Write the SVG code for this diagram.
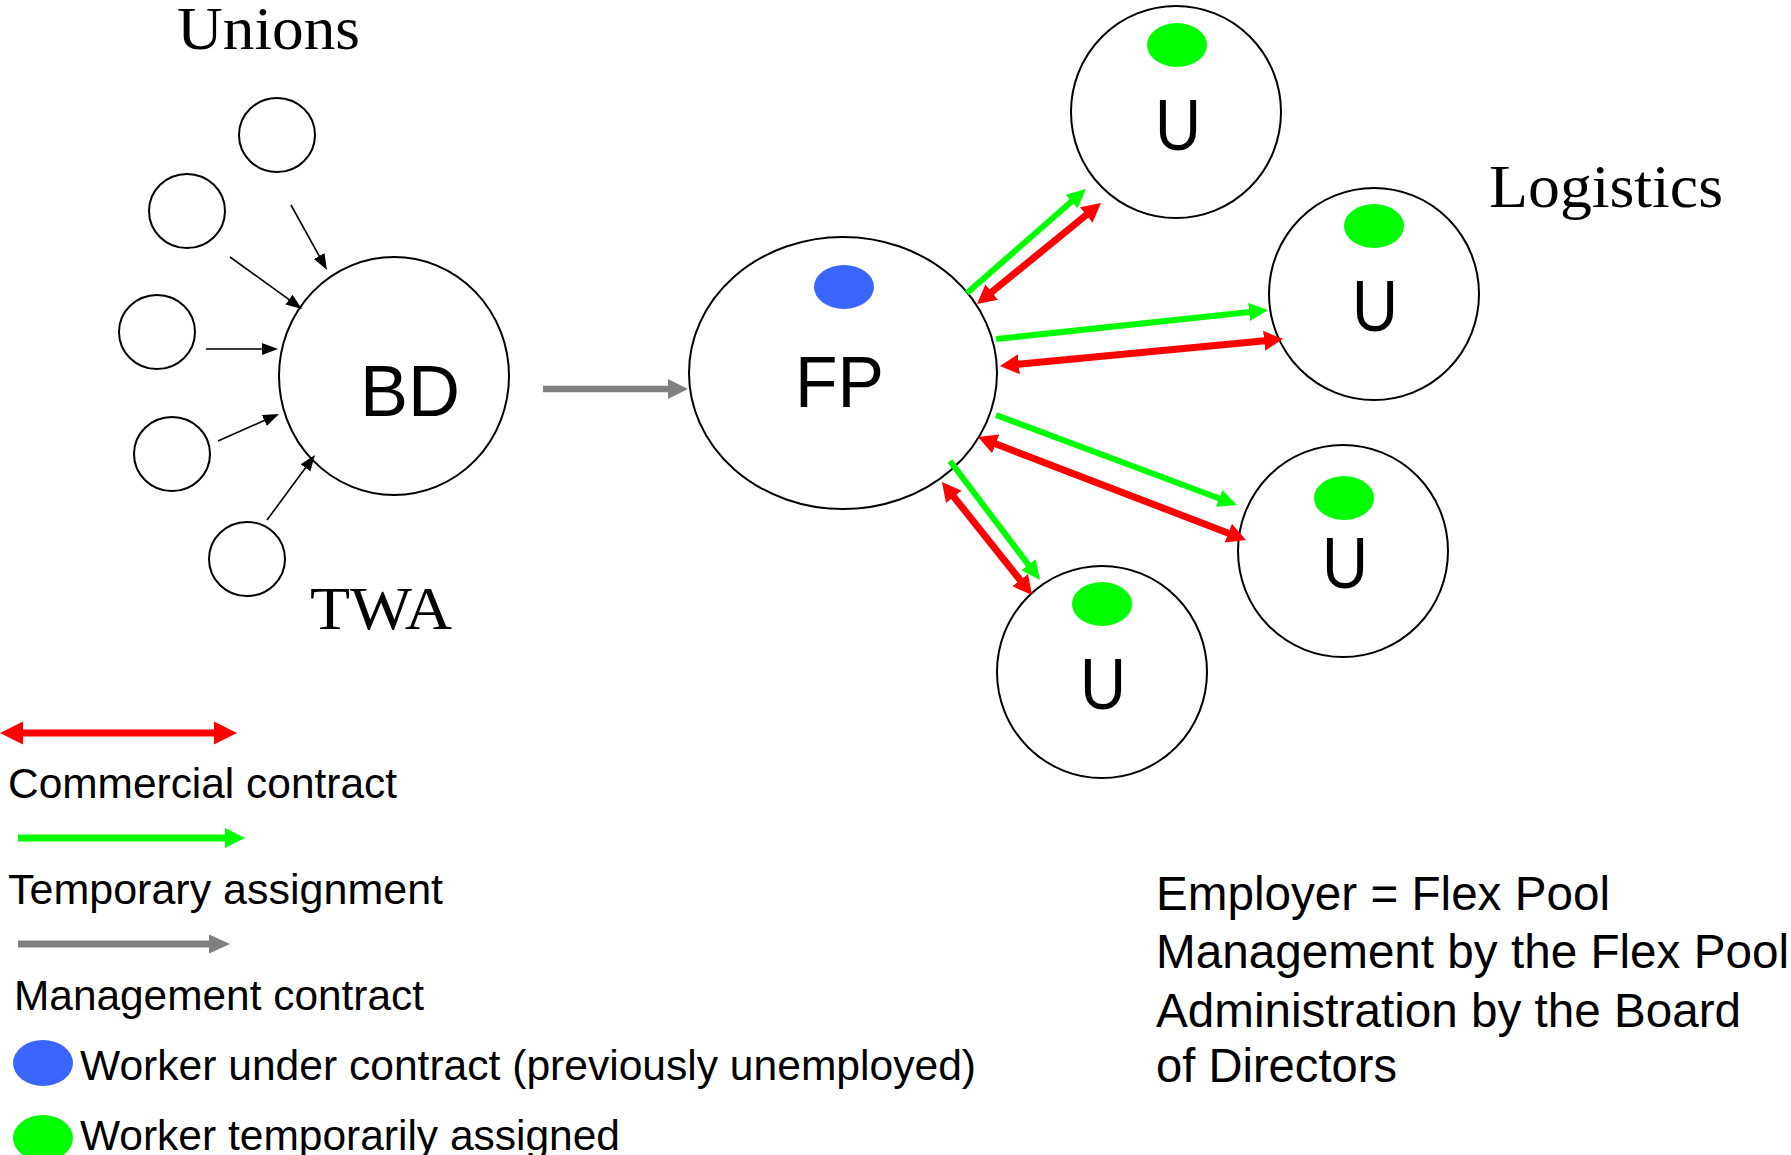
<svg xmlns="http://www.w3.org/2000/svg" width="1791" height="1155" viewBox="0 0 1791 1155">
  <style>
    .node { fill: #ffffff; stroke: #000000; stroke-width: 2; }
    .serif { font-family: "Liberation Serif", "Times New Roman", serif; font-size: 62px; fill: #000000; }
    .big { font-family: "Liberation Sans", Arial, sans-serif; font-size: 72px; fill: #000000; }
    .legend { font-family: "Liberation Sans", Arial, sans-serif; font-size: 42.5px; fill: #000000; }
    .note { font-family: "Liberation Sans", Arial, sans-serif; font-size: 47.5px; fill: #000000; }
    .thin { stroke: #000000; stroke-width: 1.6; fill: none; marker-end: url(#headBlack); }
    .mgmt { stroke: #808080; stroke-width: 6.5; fill: none; marker-end: url(#headGray); }
    .assign { stroke: #00ff00; stroke-width: 6; fill: none; marker-end: url(#headGreen); }
    .contract { stroke: #ff0000; stroke-width: 7; fill: none; marker-start: url(#headRed); marker-end: url(#headRed); }
    .dotGreen { fill: #00ff00; }
    .dotBlue { fill: #3a66ff; }
  </style>
  <defs>
    <!-- arrowheads start at the shaft end and point forward -->
    <marker id="headBlack" markerUnits="userSpaceOnUse" viewBox="-1 -8 18 16" markerWidth="18" markerHeight="16" refX="0" refY="0" orient="auto-start-reverse">
      <path d="M-1,-6 L15,0 L-1,6 Z" fill="#000000"/>
    </marker>
    <marker id="headGray" markerUnits="userSpaceOnUse" viewBox="-1 -11 22 22" markerWidth="22" markerHeight="22" refX="0" refY="0" orient="auto-start-reverse">
      <path d="M-1,-10 L19,0 L-1,10 Z" fill="#808080"/>
    </marker>
    <marker id="headGreen" markerUnits="userSpaceOnUse" viewBox="-1 -11 22 22" markerWidth="22" markerHeight="22" refX="0" refY="0" orient="auto-start-reverse">
      <path d="M-1,-9 L18,0 L-1,9 Z" fill="#00ff00"/>
    </marker>
    <marker id="headRed" markerUnits="userSpaceOnUse" viewBox="-1 -11 22 22" markerWidth="22" markerHeight="22" refX="0" refY="0" orient="auto-start-reverse">
      <path d="M-1,-10 L18,0 L-1,10 Z" fill="#ff0000"/>
    </marker>
    <marker id="headRedL" markerUnits="userSpaceOnUse" viewBox="-1 -13 26 26" markerWidth="26" markerHeight="26" refX="0" refY="0" orient="auto-start-reverse">
      <path d="M-1,-11.5 L22,0 L-1,11.5 Z" fill="#ff0000"/>
    </marker>
    <marker id="headGreenL" markerUnits="userSpaceOnUse" viewBox="-1 -11 22 22" markerWidth="22" markerHeight="22" refX="0" refY="0" orient="auto-start-reverse">
      <path d="M-1,-10 L19,0 L-1,10 Z" fill="#00ff00"/>
    </marker>
    <marker id="headGrayL" markerUnits="userSpaceOnUse" viewBox="-1 -11 22 22" markerWidth="22" markerHeight="22" refX="0" refY="0" orient="auto-start-reverse">
      <path d="M-1,-9.5 L20,0 L-1,9.5 Z" fill="#808080"/>
    </marker>
  </defs>

  <rect x="0" y="0" width="1791" height="1155" fill="#ffffff"/>

  <!-- group labels -->
  <text class="serif" x="177" y="49" textLength="183" lengthAdjust="spacingAndGlyphs">Unions</text>
  <text class="serif" x="310" y="629" textLength="142" lengthAdjust="spacingAndGlyphs">TWA</text>
  <text class="serif" x="1489" y="207" textLength="234" lengthAdjust="spacingAndGlyphs">Logistics</text>

  <!-- temporary work agencies feeding the board -->
  <g id="twa1"><ellipse class="node" cx="277" cy="135" rx="38" ry="37"/></g>
  <g id="twa2"><ellipse class="node" cx="187" cy="211" rx="38" ry="37"/></g>
  <g id="twa3"><ellipse class="node" cx="157" cy="332" rx="38" ry="37"/></g>
  <g id="twa4"><ellipse class="node" cx="172" cy="454" rx="38" ry="37"/></g>
  <g id="twa5"><ellipse class="node" cx="247" cy="559" rx="38" ry="37"/></g>

  <g id="bd">
    <ellipse class="node" cx="394" cy="376" rx="115" ry="119"/>
    <text class="big" x="360" y="416" textLength="100" lengthAdjust="spacingAndGlyphs">BD</text>
  </g>

  <g id="fp">
    <ellipse class="node" cx="843" cy="373" rx="154" ry="136"/>
    <ellipse class="dotBlue" cx="844" cy="287" rx="30" ry="22"/>
    <text class="big" x="795" y="407" textLength="89" lengthAdjust="spacingAndGlyphs">FP</text>
  </g>

  <g id="user-top">
    <ellipse class="node" cx="1176" cy="112" rx="105" ry="106"/>
    <ellipse class="dotGreen" cx="1177" cy="45" rx="30" ry="22"/>
    <text class="big" x="1155" y="150" textLength="46" lengthAdjust="spacingAndGlyphs">U</text>
  </g>
  <g id="user-right">
    <ellipse class="node" cx="1374" cy="294" rx="105" ry="106"/>
    <ellipse class="dotGreen" cx="1374" cy="226" rx="30" ry="22"/>
    <text class="big" x="1352" y="331" textLength="46" lengthAdjust="spacingAndGlyphs">U</text>
  </g>
  <g id="user-lower-right">
    <ellipse class="node" cx="1343" cy="551" rx="105" ry="106"/>
    <ellipse class="dotGreen" cx="1344" cy="498" rx="30" ry="22"/>
    <text class="big" x="1322" y="588" textLength="46" lengthAdjust="spacingAndGlyphs">U</text>
  </g>
  <g id="user-bottom">
    <ellipse class="node" cx="1102" cy="672" rx="105" ry="106"/>
    <ellipse class="dotGreen" cx="1102" cy="604" rx="30" ry="22"/>
    <text class="big" x="1080" y="709" textLength="46" lengthAdjust="spacingAndGlyphs">U</text>
  </g>

  <!-- connectors -->
  <g id="connectors">
    <line class="thin" x1="291" y1="205" x2="319.7" y2="256.9"/>
    <line class="thin" x1="230" y1="257" x2="289.8" y2="300.2"/>
    <line class="thin" x1="206" y1="349" x2="263" y2="349"/>
    <line class="thin" x1="218" y1="441" x2="265.3" y2="420.1"/>
    <line class="thin" x1="267" y1="520" x2="306.1" y2="467.1"/>

    <line class="mgmt" x1="543" y1="389" x2="669" y2="389"/>

    <line class="assign" x1="967" y1="293" x2="1072.4" y2="200.8"/>
    <line class="contract" x1="991" y1="292.6" x2="1087" y2="214.4"/>

    <line class="assign" x1="996" y1="339" x2="1250.1" y2="311.9"/>
    <line class="contract" x1="1017.9" y1="364.3" x2="1265.1" y2="340.7"/>

    <line class="assign" x1="996" y1="415" x2="1220.1" y2="498.7"/>
    <line class="contract" x1="994.8" y1="443.5" x2="1229.2" y2="533.5"/>

    <line class="assign" x1="950" y1="461" x2="1029.1" y2="565.6"/>
    <line class="contract" x1="953.2" y1="496.1" x2="1020.8" y2="580.9"/>
  </g>

  <!-- legend -->
  <g id="legend">
    <line x1="22" y1="733" x2="215" y2="733" stroke="#ff0000" stroke-width="7" marker-start="url(#headRedL)" marker-end="url(#headRedL)"/>
    <text class="legend" x="8" y="798" textLength="389" lengthAdjust="spacingAndGlyphs">Commercial contract</text>
    <line x1="18" y1="838" x2="226" y2="838" stroke="#00ff00" stroke-width="7" marker-end="url(#headGreenL)"/>
    <text class="legend" x="8" y="904" textLength="435" lengthAdjust="spacingAndGlyphs">Temporary assignment</text>
    <line x1="18" y1="944" x2="210" y2="944" stroke="#808080" stroke-width="7" marker-end="url(#headGrayL)"/>
    <text class="legend" x="14" y="1010" textLength="410" lengthAdjust="spacingAndGlyphs">Management contract</text>
    <ellipse class="dotBlue" cx="43" cy="1063" rx="30" ry="23"/>
    <text class="legend" x="80" y="1080" textLength="896" lengthAdjust="spacingAndGlyphs">Worker under contract (previously unemployed)</text>
    <ellipse class="dotGreen" cx="43" cy="1138" rx="30" ry="23"/>
    <text class="legend" x="80" y="1150" textLength="540" lengthAdjust="spacingAndGlyphs">Worker temporarily assigned</text>
  </g>

  <!-- notes -->
  <g id="notes">
    <text class="note" x="1156" y="910" textLength="454" lengthAdjust="spacingAndGlyphs">Employer = Flex Pool</text>
    <text class="note" x="1156" y="968" textLength="633" lengthAdjust="spacingAndGlyphs">Management by the Flex Pool</text>
    <text class="note" x="1156" y="1027" textLength="585" lengthAdjust="spacingAndGlyphs">Administration by the Board</text>
    <text class="note" x="1156" y="1082" textLength="241" lengthAdjust="spacingAndGlyphs">of Directors</text>
  </g>
</svg>
